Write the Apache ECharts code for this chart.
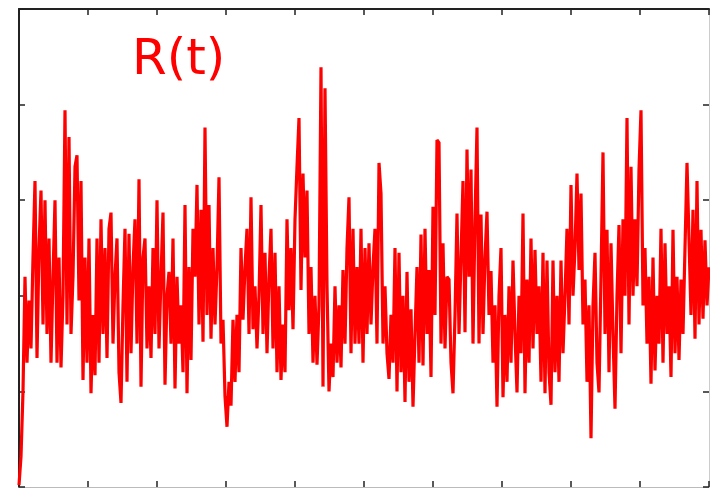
<!DOCTYPE html>
<html>
<head>
<meta charset="utf-8">
<script src="https://cdn.jsdelivr.net/npm/echarts@6/dist/echarts.min.js"></script>
<style>
  html, body { margin: 0; padding: 0; background: #fff; }
  #chart { width: 710px; height: 489px; }
</style>
</head>
<body>
<div id="chart"></div>
<script>
var chart = echarts.init(document.getElementById('chart'));

// R(t) samples (y axis 0..5, time axis 0..10)
var rValues = [
  0.02, 0.32, 1.0, 2.2, 1.3, 1.95, 1.45, 2.4, 3.2, 1.35,
  2.5, 3.1, 1.7, 3.0, 1.6, 2.6, 1.3, 2.2, 3.0, 1.3,
  2.4, 1.25, 2.0, 3.94, 1.7, 3.66, 1.6, 2.2, 3.35, 3.47,
  1.95, 3.2, 1.12, 2.4, 1.3, 2.6, 0.98, 1.8, 1.17, 2.6,
  1.3, 2.8, 1.6, 2.5, 1.35, 2.7, 2.87, 1.5, 2.2, 2.6,
  1.2, 0.88, 1.9, 2.7, 1.1, 2.65, 1.4, 2.3, 2.8, 1.5,
  3.22, 1.05, 2.4, 2.6, 1.45, 2.1, 1.35, 2.5, 1.6, 3.0,
  1.45, 2.2, 2.87, 1.07, 2.0, 2.25, 1.5, 2.6, 1.03, 2.2,
  1.5, 1.9, 1.2, 2.95, 0.98, 2.3, 1.33, 2.7, 2.2, 3.16,
  1.7, 2.9, 1.52, 3.76, 1.8, 2.95, 1.55, 2.5, 1.7, 2.3,
  3.24, 1.5, 1.75, 0.95, 0.63, 1.1, 0.85, 1.75, 1.1, 1.8,
  1.2, 2.5, 1.75, 2.3, 2.7, 1.6, 3.03, 1.65, 2.1, 1.45,
  2.0, 2.95, 1.6, 2.45, 1.4, 2.2, 2.7, 1.45, 2.45, 1.2,
  2.1, 1.12, 1.7, 1.2, 2.8, 1.85, 2.5, 1.65, 2.8, 3.35,
  3.86, 2.06, 3.28, 2.4, 3.1, 1.6, 2.3, 1.3, 2.0, 1.28,
  1.9, 4.39, 1.05, 4.17, 2.1, 1.0, 1.5, 1.15, 2.1, 1.3,
  1.9, 1.25, 2.27, 1.5, 2.5, 3.03, 1.4, 2.7, 1.5, 2.3,
  1.5, 2.7, 1.3, 2.5, 1.6, 2.55, 1.7, 2.3, 2.7, 1.5,
  3.39, 3.07, 1.5, 2.1, 1.4, 1.13, 1.8, 1.3, 2.5, 1.0,
  2.45, 1.2, 2.0, 0.89, 2.25, 1.1, 1.86, 0.84, 1.6, 2.3,
  1.3, 2.64, 1.27, 2.7, 1.6, 2.27, 1.15, 2.93, 1.8, 3.63,
  3.6, 1.5, 2.55, 1.45, 2.2, 2.17, 1.3, 0.98, 1.8, 2.86,
  1.6, 2.4, 3.2, 1.62, 3.53, 2.2, 3.32, 1.5, 2.8, 3.76,
  1.5, 2.85, 1.6, 2.4, 2.88, 1.8, 2.26, 1.3, 1.9, 0.84,
  2.0, 2.5, 0.94, 1.8, 1.1, 2.1, 1.3, 2.37, 1.6, 0.99,
  2.0, 1.4, 2.86, 0.98, 2.17, 1.3, 2.6, 1.45, 2.48, 1.6,
  2.1, 1.1, 2.45, 0.98, 2.37, 1.2, 0.86, 2.37, 1.2, 2.0,
  1.1, 2.37, 1.4, 2.0, 2.7, 1.7, 3.16, 2.0, 2.5, 3.28,
  2.27, 3.07, 1.7, 2.17, 1.1, 1.9, 0.51, 1.9, 2.45, 1.3,
  0.99, 2.2, 3.5, 1.6, 2.69, 1.2, 2.55, 1.6, 0.82, 2.0,
  2.74, 1.4, 2.8, 2.0, 3.86, 1.7, 3.35, 2.0, 2.8, 2.1,
  3.32, 3.94, 1.9, 2.5, 1.5, 2.2, 1.08, 2.4, 1.22, 2.0,
  1.5, 2.7, 1.3, 2.55, 1.6, 2.1, 1.15, 2.69, 1.4, 2.2,
  1.33, 2.17, 1.6, 2.5, 3.39, 2.6, 1.8, 2.9, 1.55, 3.2,
  1.7, 2.69, 1.76, 2.58, 1.9, 2.3
];

var tMax = 10;
var dt = tMax / (rValues.length - 1);

// staircase: each sample is held until the next time step
var points = [];
rValues.forEach(function (v, i) {
  var t = i * dt;
  if (i > 0) points.push([t, rValues[i - 1]]);
  points.push([t, v]);
});

var tickStyle = { show: true, inside: true, length: 6, lineStyle: { color: '#222', width: 1.5 } };

function frameAxis(pos, lineColor, lineWidth, max) {
  return {
    type: 'value', min: 0, max: max, interval: 1, position: pos,
    axisLine: { show: true, onZero: false, lineStyle: { color: lineColor, width: lineWidth } },
    axisTick: tickStyle,
    axisLabel: { show: false },
    splitLine: { show: false }
  };
}

var option = {
  animation: false,
  backgroundColor: '#fff',
  title: {
    text: 'R(t)',
    left: 127,
    top: 31,
    textStyle: {
      color: '#ff0000',
      fontSize: 50,
      fontWeight: 'normal',
      fontFamily: '"Comic Sans MS", "DejaVu Sans", sans-serif'
    }
  },
  grid: { left: 19, right: 1, top: 9, bottom: 2 },
  xAxis: [
    frameAxis('bottom', '#bbb', 1, tMax),
    frameAxis('top', '#222', 2, tMax)
  ],
  yAxis: [
    frameAxis('left', '#222', 2, 5),
    frameAxis('right', '#ccc', 1, 5)
  ],
  series: [{
    name: 'R(t)',
    type: 'line',
    showSymbol: false,
    sampling: null,
    clip: true,
    xAxisIndex: 0,
    yAxisIndex: 0,
    lineStyle: { color: '#ff0000', width: 3.2, join: 'miter', miterLimit: 2, cap: 'butt' },
    data: points
  }]
};

chart.setOption(option);
</script>
</body>
</html>
